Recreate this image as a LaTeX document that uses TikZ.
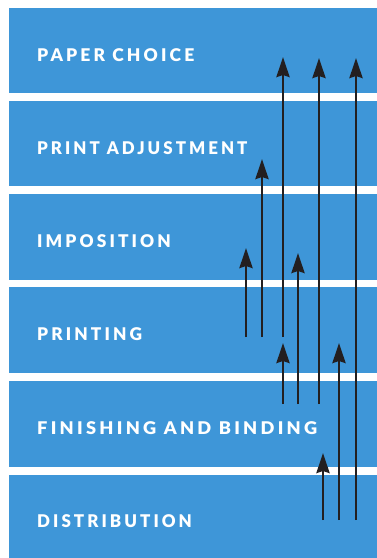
\documentclass[tikz,border=0pt]{standalone}
\usepackage{fontspec}
\usepackage{graphicx}
\setmainfont{Lato}
\newfontfamily\labelfont[LetterSpace=18]{Lato Black}
\usetikzlibrary{arrows.meta,calc}
\definecolor{bandblue}{RGB}{62,150,216}
\definecolor{arrowink}{RGB}{35,31,32}
\tikzset{
  band/.style={fill=bandblue,draw=none,minimum width=368pt,inner sep=0pt,anchor=north west},
  bandlabel/.style={text=white,inner sep=0pt,anchor=base west,font=\labelfont\fontsize{17.5}{17.5}\selectfont},
  flow/.style={draw=arrowink,line width=2.8pt,-{Stealth[width=13pt,length=20pt,inset=2pt]}}
}
\begin{document}
\begin{tikzpicture}[x=1pt,y=-1pt]
\useasboundingbox (0,0) rectangle (377,558);
\fill[white] (0,0) rectangle (377,558);
% bands
\node[band,minimum height=85pt] (b1) at (9,8) {};
\node[band,minimum height=85pt] (b2) at (9,101) {};
\node[band,minimum height=86pt] (b3) at (9,194) {};
\node[band,minimum height=86pt] (b4) at (9,287) {};
\node[band,minimum height=86pt] (b5) at (9,381) {};
\node[band,minimum height=83pt] (b6) at (9,475) {};
% labels
\node[bandlabel] (t1) at (37,61) {PAPER CHOICE};
\node[bandlabel] (t2) at (37,154) {\scalebox{0.965}[1]{PRINT ADJUSTMENT}};
\node[bandlabel] (t3) at (37,247.5) {\scalebox{0.99}[1]{IMPOSITION}};
\node[bandlabel] (t4) at (37,340.5) {\scalebox{0.99}[1]{PRINTING}};
\node[bandlabel] (t5) at (37,434.5) {\scalebox{1.04}[1]{FINISHING AND BINDING}};
\node[bandlabel] (t6) at (37,527) {\scalebox{0.97}[1]{DISTRIBUTION}};
% arrow end points
\coordinate (p1s) at (246,337); \coordinate (p1e) at (246,248);
\coordinate (p2s) at (262,337); \coordinate (p2e) at (262,159);
\coordinate (p3s) at (283,337); \coordinate (p3e) at (283,57);
\coordinate (f1s) at (283,404); \coordinate (f1e) at (283,343);
\coordinate (f2s) at (298,404); \coordinate (f2e) at (298,253);
\coordinate (f3s) at (319,404); \coordinate (f3e) at (319,58);
\coordinate (d1s) at (323,520); \coordinate (d1e) at (323,453);
\coordinate (d2s) at (339,520); \coordinate (d2e) at (339,343);
\coordinate (d3s) at (356,520); \coordinate (d3e) at (356,58);
\foreach \a in {p1,p2,p3,f1,f2,f3,d1,d2,d3}{
  \draw[flow] (\a s) -- (\a e);
}
\end{tikzpicture}
\end{document}
